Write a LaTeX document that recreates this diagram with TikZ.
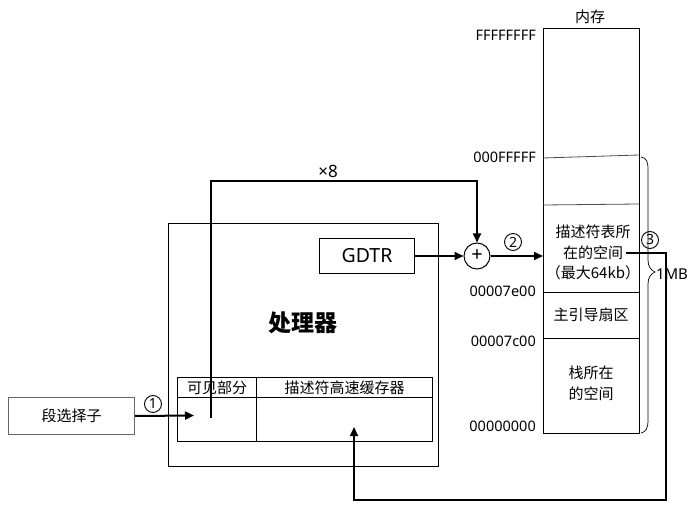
\documentclass[tikz,border=0pt]{standalone}
\usepackage{fontspec}
\setmainfont{Noto Sans}
\newfontfamily\cjk{Noto Sans CJK SC}
\usetikzlibrary{arrows.meta}
\begin{document}
\begin{tikzpicture}[x=1pt,y=-1pt,
  box/.style={draw,line width=1pt,inner sep=0pt,anchor=north west},
  conn/.style={line width=2pt},
  arr/.style={conn,-{Triangle[length=9pt,width=8pt]}},
  num/.style={draw,circle,line width=0.9pt,inner sep=0pt,minimum size=17pt,font=\fontsize{14}{14}\selectfont},
  cn/.style={font=\cjk\fontsize{15}{21}\selectfont},
  addr/.style={font=\fontsize{14.5}{14.5}\selectfont,anchor=east,inner sep=1pt},
]
\useasboundingbox (0,0) rectangle (688,513);

% memory
\node[box,minimum width=96pt,minimum height=405pt] (mem) at (543,28) {};
\node[cn] (memtitle) at (590,17) {内存};
\draw[line width=0.8pt,black!70] (543,158) -- (639,155);
\draw[line width=0.8pt,black!70] (543,205) -- (639,204);
\draw[line width=1pt] (543,292) -- (639,292);
\draw[line width=1pt] (543,338) -- (639,338);
\node[cn] (gdt1) at (593,232) {描述符表所};
\node[cn,inner sep=3pt] (gdt2) at (593,253) {在的空间};
\node[cn] (gdt3) at (593,273) {（最大64kb）};
\node[cn] (mbr) at (591,315) {主引导扇区};
\node[cn,align=center] (stack) at (591,383) {栈所在\\的空间};

\node[addr] (aF) at (537,35) {FFFFFFFF};
\node[addr] (a1M) at (537,157) {000FFFFF};
\node[addr] (a7e) at (537,291) {00007e00};
\node[addr] (a7c) at (537,341) {00007c00};
\node[addr] (a0) at (537,426) {00000000};

% brace
\draw[line width=0.7pt] (641,157) .. controls (647,158) and (648,162) .. (648,170)
  -- (648,260) .. controls (648,267) and (651,270) .. (655,272)
  .. controls (651,274) and (648,277) .. (648,284)
  -- (648,420) .. controls (648,428) and (646,432) .. (641,433);
\node[font=\fontsize{15}{15}\selectfont] (mb) at (672,274) {1MB};

% processor
\node[box,minimum width=270pt,minimum height=243pt] (cpu) at (168,223) {};
\node[font=\cjk\fontsize{23}{23}\selectfont\bfseries] (cputitle) at (303,323) {处理器};
\node[box,minimum width=95pt,minimum height=35pt,font=\fontsize{19.5}{19.5}\selectfont] (gdtr) at (319,238) {GDTR};
\node[box,minimum width=79pt,minimum height=20pt,cn] (vishead) at (177,377) {可见部分};
\node[box,minimum width=176pt,minimum height=20pt,cn] (deschead) at (256,377) {描述符高速缓存器};
\node[box,minimum width=79pt,minimum height=44pt] (visbody) at (177,397) {};
\node[box,minimum width=176pt,minimum height=44pt] (descbody) at (256,397) {};

% selector
\node[box,draw=black!60,minimum width=126pt,minimum height=37pt,cn] (sel) at (8,397) {段选择子};

% adder
\node[draw,circle,line width=1pt,minimum size=26pt,inner sep=0pt,font=\fontsize{20}{20}\selectfont] (plus) at (477,256) {+};

% coordinates
\coordinate (p1tip) at (194,415.5);
\coordinate (x8start) at (211,418);
\coordinate (x8corner) at (211,181);
\coordinate (memin) at (543,256);
\coordinate (turn3) at (666,500);
\coordinate (tip3) at (354,427);

% connectors
\draw[arr] (sel.east) -- (p1tip);
\draw[arr] (x8start) -- (x8corner) -| (plus.north);
\draw[arr] (gdtr.east) -- (plus.west);
\draw[arr] (plus.east) -- (memin);
\draw[arr] (gdt2.east) -| (turn3) -| (tip3);

% labels
\node[font=\fontsize{17}{17}\selectfont] (times8) at (328,171) {×8};
\node[num] (n1) at (153,404) {1};
\node[num] (n2) at (513,242) {2};
\node[num] (n3) at (650,240) {3};
\end{tikzpicture}
\end{document}
